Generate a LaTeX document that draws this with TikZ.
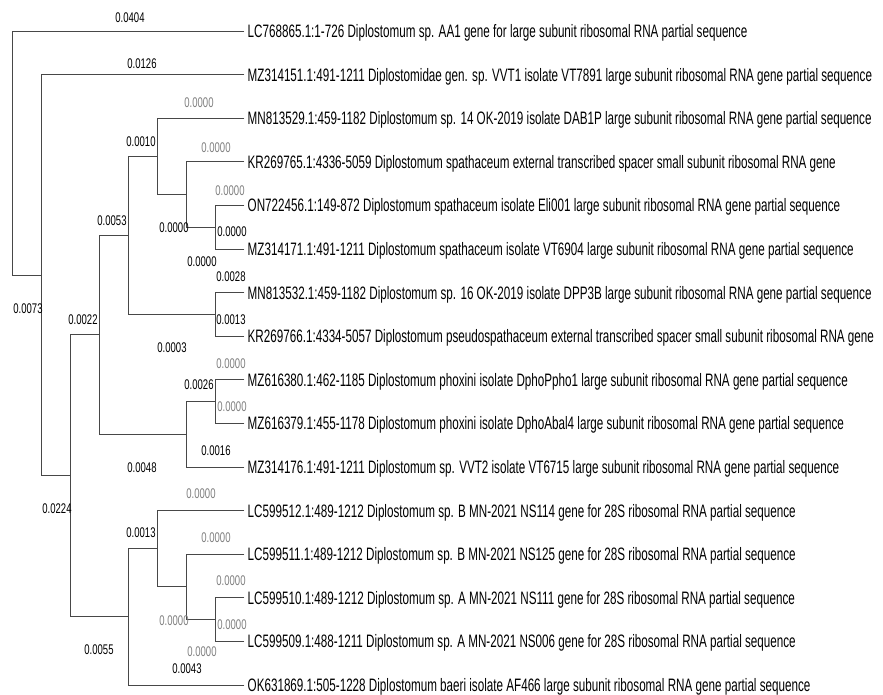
\documentclass[tikz,border=0pt]{standalone}
\usepackage{fontspec}
\setmainfont{Liberation Sans}[FakeStretch=0.648]
\newfontfamily\numfont{Liberation Sans}[FakeStretch=0.68]
\begin{document}
\begin{tikzpicture}[x=1pt,y=-1pt,
  edge/.style={draw=black!72, line width=0.9pt, line cap=rect},
  leaf/.style={anchor=base west, inner sep=0pt, font=\fontsize{18}{20}\selectfont},
  bl/.style={inner sep=0pt, font=\numfont\fontsize{14}{15}\selectfont, text=black},
  gl/.style={bl, text=black!50}]
\useasboundingbox (0,0) rectangle (883,695);
% internal nodes
\coordinate (root) at (12,153.1);
\coordinate (n1) at (41,275.25);
\coordinate (n2) at (70,475.9);
\coordinate (n3) at (99,334.85);
\coordinate (n4) at (128,235.4);
\coordinate (n5) at (157,156.35);
\coordinate (n6) at (186,194.5);
\coordinate (n6b) at (215,227.2);
\coordinate (n7) at (215,314.4);
\coordinate (n8) at (186,434.3);
\coordinate (n9) at (215,401.6);
\coordinate (n10) at (128,616.9);
\coordinate (n11) at (157,548.75);
\coordinate (n12) at (186,586.9);
\coordinate (n13) at (215,619.6);
% leaf ends
\foreach \i/\y in {1/31,2/74.6,3/118.2,4/161.8,5/205.4,6/249,7/292.6,8/336.2,9/379.8,10/423.4,11/467,12/510.6,13/554.2,14/597.8,15/641.4,16/685}
  \coordinate (e\i) at (244,\y);
% leaf labels
\node[leaf] (t1) at ([xshift=3.5pt,yshift=-6.5pt]e1) {LC768865.1:1-726 Diplostomum sp. AA1 gene for large subunit ribosomal RNA partial sequence};
\node[leaf] (t2) at ([xshift=3.5pt,yshift=-6.5pt]e2) {MZ314151.1:491-1211 Diplostomidae gen. sp. VVT1 isolate VT7891 large subunit ribosomal RNA gene partial sequence};
\node[leaf] (t3) at ([xshift=3.5pt,yshift=-6.5pt]e3) {MN813529.1:459-1182 Diplostomum sp. 14 OK-2019 isolate DAB1P large subunit ribosomal RNA gene partial sequence};
\node[leaf] (t4) at ([xshift=3.5pt,yshift=-6.5pt]e4) {KR269765.1:4336-5059 Diplostomum spathaceum external transcribed spacer small subunit ribosomal RNA gene};
\node[leaf] (t5) at ([xshift=3.5pt,yshift=-6.5pt]e5) {ON722456.1:149-872 Diplostomum spathaceum isolate Eli001 large subunit ribosomal RNA gene partial sequence};
\node[leaf] (t6) at ([xshift=3.5pt,yshift=-6.5pt]e6) {MZ314171.1:491-1211 Diplostomum spathaceum isolate VT6904 large subunit ribosomal RNA gene partial sequence};
\node[leaf] (t7) at ([xshift=3.5pt,yshift=-6.5pt]e7) {MN813532.1:459-1182 Diplostomum sp. 16 OK-2019 isolate DPP3B large subunit ribosomal RNA gene partial sequence};
\node[leaf] (t8) at ([xshift=3.5pt,yshift=-6.5pt]e8) {KR269766.1:4334-5057 Diplostomum pseudospathaceum external transcribed spacer small subunit ribosomal RNA gene};
\node[leaf] (t9) at ([xshift=3.5pt,yshift=-6.5pt]e9) {MZ616380.1:462-1185 Diplostomum phoxini isolate DphoPpho1 large subunit ribosomal RNA gene partial sequence};
\node[leaf] (t10) at ([xshift=3.5pt,yshift=-6.5pt]e10) {MZ616379.1:455-1178 Diplostomum phoxini isolate DphoAbal4 large subunit ribosomal RNA gene partial sequence};
\node[leaf] (t11) at ([xshift=3.5pt,yshift=-6.5pt]e11) {MZ314176.1:491-1211 Diplostomum sp. VVT2 isolate VT6715 large subunit ribosomal RNA gene partial sequence};
\node[leaf] (t12) at ([xshift=3.5pt,yshift=-6.5pt]e12) {LC599512.1:489-1212 Diplostomum sp. B MN-2021 NS114 gene for 28S ribosomal RNA partial sequence};
\node[leaf] (t13) at ([xshift=3.5pt,yshift=-6.5pt]e13) {LC599511.1:489-1212 Diplostomum sp. B MN-2021 NS125 gene for 28S ribosomal RNA partial sequence};
\node[leaf] (t14) at ([xshift=3.5pt,yshift=-6.5pt]e14) {LC599510.1:489-1212 Diplostomum sp. A MN-2021 NS111 gene for 28S ribosomal RNA partial sequence};
\node[leaf] (t15) at ([xshift=3.5pt,yshift=-6.5pt]e15) {LC599509.1:488-1211 Diplostomum sp. A MN-2021 NS006 gene for 28S ribosomal RNA partial sequence};
\node[leaf] (t16) at ([xshift=3.5pt,yshift=-6.5pt]e16) {OK631869.1:505-1228 Diplostomum baeri isolate AF466 large subunit ribosomal RNA gene partial sequence};
% edges
\draw[edge] (root) |- (e1);
\draw[edge] (root) |- (n1);
\draw[edge] (n1) |- (e2);
\draw[edge] (n1) |- (n2);
\draw[edge] (n2) |- (n3);
\draw[edge] (n2) |- (n10);
\draw[edge] (n3) |- (n4);
\draw[edge] (n3) |- (n8);
\draw[edge] (n4) |- (n5);
\draw[edge] (n4) |- (n7);
\draw[edge] (n5) |- (e3);
\draw[edge] (n5) |- (n6);
\draw[edge] (n6) |- (e4);
\draw[edge] (n6) |- (n6b);
\draw[edge] (n6b) |- (e5);
\draw[edge] (n6b) |- (e6);
\draw[edge] (n7) |- (e7);
\draw[edge] (n7) |- (e8);
\draw[edge] (n8) |- (n9);
\draw[edge] (n8) |- (e11);
\draw[edge] (n9) |- (e9);
\draw[edge] (n9) |- (e10);
\draw[edge] (n10) |- (n11);
\draw[edge] (n10) |- (e16);
\draw[edge] (n11) |- (e12);
\draw[edge] (n11) |- (n12);
\draw[edge] (n12) |- (e13);
\draw[edge] (n12) |- (n13);
\draw[edge] (n13) |- (e14);
\draw[edge] (n13) |- (e15);
% branch lengths
\node[bl] (b1) at (130,18) {0.0404};
\node[bl] (b2) at (142,64) {0.0126};
\node[gl] (b3) at (199,103) {0.0000};
\node[bl] (b4) at (141,142) {0.0010};
\node[gl] (b5) at (216,148) {0.0000};
\node[gl] (b6) at (230,191) {0.0000};
\node[bl] (b7) at (174,228) {0.0000};
\node[bl] (b8) at (232,232) {0.0000};
\node[bl] (b9) at (202,262) {0.0000};
\node[bl] (b10) at (231,277) {0.0028};
\node[bl] (b11) at (231,320) {0.0013};
\node[bl] (b12) at (112,221) {0.0053};
\node[bl] (b13) at (28,309) {0.0073};
\node[bl] (b14) at (83,320) {0.0022};
\node[bl] (b15) at (172,348) {0.0003};
\node[gl] (b16) at (231,364) {0.0000};
\node[bl] (b17) at (199,385) {0.0026};
\node[gl] (b18) at (232,407) {0.0000};
\node[bl] (b19) at (216,451) {0.0016};
\node[bl] (b20) at (142,468) {0.0048};
\node[bl] (b21) at (57,509) {0.0224};
\node[gl] (b22) at (201,494) {0.0000};
\node[bl] (b23) at (141,533) {0.0013};
\node[gl] (b24) at (216,538) {0.0000};
\node[gl] (b25) at (231,581) {0.0000};
\node[gl] (b26) at (174,621) {0.0000};
\node[gl] (b27) at (232,625) {0.0000};
\node[bl] (b28) at (99,650) {0.0055};
\node[gl] (b29) at (202,652) {0.0000};
\node[bl] (b30) at (187,669) {0.0043};
\end{tikzpicture}
\end{document}
